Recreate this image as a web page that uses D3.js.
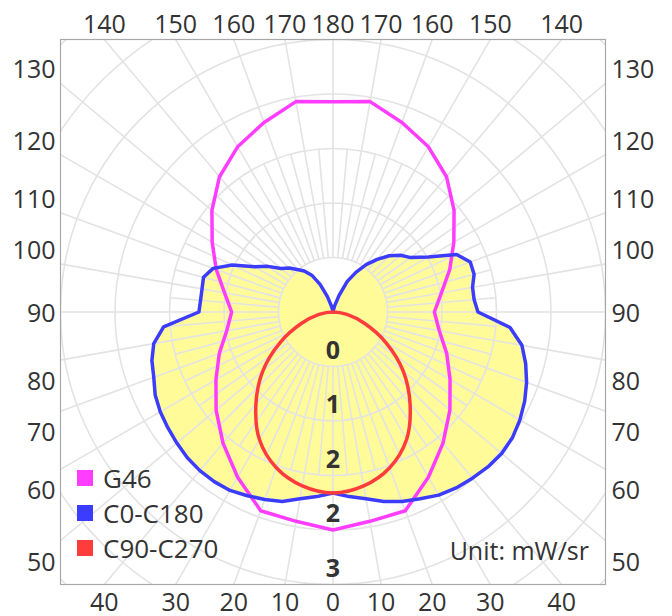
<!DOCTYPE html>
<html>
<head>
<meta charset="utf-8">
<script src="https://cdn.jsdelivr.net/npm/d3@7"></script>
<style>
  body { margin: 0; background: #fff; }
  svg { display: block; }
  text { font-family: "Open Sans", "Noto Sans", sans-serif; fill: #333; }
</style>
</head>
<body>
<svg id="chart" width="672" height="616"></svg>
<script>
// gamma angles (0 = straight down, 180 = straight up)
const angles10 = d3.range(0, 181, 10);
const angles5 = d3.range(0, 181, 5);

// G46 (symmetric), every 10 deg
const g46 = [2.00, 1.95, 1.94, 1.75, 1.57, 1.40, 1.24, 1.11, 0.99, 0.93,
             1.01, 1.14, 1.28, 1.45, 1.62, 1.75, 1.85, 1.96, 1.93];

// C0-C180, every 5 deg, right half (C0) and left half (C180)
const c0 = [1.66, 1.70, 1.74, 1.80, 1.85, 1.89, 1.94, 1.97, 1.99, 2.01, 2.02, 2.01, 1.98,
            1.94, 1.89, 1.83, 1.76, 1.63, 1.33, 1.30, 1.30, 1.34, 1.34, 1.25, 1.01, 0.87,
            0.81, 0.73, 0.63, 0.53, 0.42, 0.31, 0.16, 0.06, 0.02, 0.01, 0];
const c180 = [1.66, 1.70, 1.74, 1.80, 1.83, 1.86, 1.89, 1.90, 1.90, 1.89, 1.87, 1.85, 1.83,
              1.80, 1.75, 1.72, 1.67, 1.56, 1.23, 1.22, 1.22, 1.23, 1.17, 1.02, 0.83, 0.73,
              0.62, 0.57, 0.51, 0.46, 0.39, 0.28, 0.15, 0.06, 0.02, 0.01, 0];

// C90-C270 (symmetric), every 10 deg from 0 to 90
const c90Angles = d3.range(0, 91, 10);
const c90 = [1.66, 1.62, 1.52, 1.35, 1.10, 0.84, 0.56, 0.31, 0.13, 0];

const ringValues = [0.5, 1, 1.5, 2, 2.5];
const ringLabels = ["0", "1", "2", "2", "3"];
const legendNames = ["G46", "C0-C180", "C90-C270"];
const colors = ["#ff3dff", "#3c3cff", "#ff3c3c"];

const svg = d3.select("#chart");
const cx = 333, cy = 312, R = 272.5;
const box = { x0: cx - R, y0: cy - R, size: 2 * R };

const r = d3.scaleLinear().domain([0, 2.5]).range([0, R]);
const rad = (d) => (d * Math.PI) / 180;

// side: +1 right half, -1 left half  -> angle for d3.lineRadial
const radialAngle = (theta, side) => (side > 0 ? Math.PI - rad(theta) : Math.PI + rad(theta));

function twoSided(angles, right, left) {
  const pts = angles.map((a, i) => ({ a: radialAngle(a, 1), v: right[i] }));
  for (let i = angles.length - 2; i > 0; i--) pts.push({ a: radialAngle(angles[i], -1), v: left[i] });
  return pts;
}

const line = d3.lineRadial().angle((d) => d.a).radius((d) => r(d.v)).curve(d3.curveLinearClosed);
const smooth = d3.lineRadial().angle((d) => d.a).radius((d) => r(d.v)).curve(d3.curveCatmullRomClosed);

svg.append("defs").append("clipPath").attr("id", "clip")
  .append("rect").attr("x", box.x0).attr("y", box.y0).attr("width", box.size).attr("height", box.size);

const plot = svg.append("g").attr("clip-path", "url(#clip)");
const g = plot.append("g").attr("transform", `translate(${cx},${cy})`);

// yellow fill of the C0-C180 curve
const bluePts = twoSided(angles5, c0, c180);
g.append("path").attr("d", line(bluePts)).attr("fill", "#fffb99").attr("stroke", "none");

// grid
const grid = g.append("g").attr("stroke", "#e3e3e3").attr("stroke-width", 1.6).attr("fill", "none");
const step = ringValues[0];
d3.range(1, 8).forEach((k) => grid.append("circle").attr("r", r(k * step)));
d3.range(0, 360, 10).forEach((a) => {
  grid.append("line")
    .attr("x1", r(step) * Math.sin(rad(a))).attr("y1", r(step) * Math.cos(rad(a)))
    .attr("x2", 2 * R * Math.sin(rad(a))).attr("y2", 2 * R * Math.cos(rad(a)));
});
d3.range(5, 360, 10).forEach((a) => {
  grid.append("line")
    .attr("x1", r(step) * Math.sin(rad(a))).attr("y1", r(step) * Math.cos(rad(a)))
    .attr("x2", r(3 * step) * Math.sin(rad(a))).attr("y2", r(3 * step) * Math.cos(rad(a)));
});

// curves
const g46Pts = twoSided(angles10, g46, g46);
const redPts = c90Angles.map((a, i) => ({ a: radialAngle(a, 1), v: c90[i] }));
for (let i = c90Angles.length - 2; i > 0; i--) redPts.push({ a: radialAngle(c90Angles[i], -1), v: c90[i] });

g.append("path").attr("d", line(g46Pts)).attr("fill", "none").attr("stroke", colors[0])
  .attr("stroke-width", 3.5).attr("stroke-linejoin", "round");
g.append("path").attr("d", line(bluePts)).attr("fill", "none").attr("stroke", colors[1])
  .attr("stroke-width", 3.5).attr("stroke-linejoin", "round");
g.append("path").attr("d", smooth(redPts)).attr("fill", "none").attr("stroke", colors[2])
  .attr("stroke-width", 3.5);

// frame
svg.append("rect").attr("x", box.x0).attr("y", box.y0).attr("width", box.size).attr("height", box.size)
  .attr("fill", "none").attr("stroke", "#a8a8a8").attr("stroke-width", 1.2);

// radial labels
svg.selectAll(".rlab").data(ringValues).enter().append("text")
  .attr("class", "rlab")
  .attr("x", cx).attr("y", (d) => cy + r(d) - 18)
  .attr("text-anchor", "middle").attr("dominant-baseline", "central")
  .style("font-size", "25px").style("font-weight", "bold")
  .text((d, i) => ringLabels[i]);

// angle labels around the frame
const angleLabels = [];
angles10.forEach((a) => {
  [1, -1].forEach((side) => {
    if ((a === 0 || a === 180) && side < 0) return;
    const s = Math.sin(rad(a)), c = Math.cos(rad(a));
    const t = R / Math.max(Math.abs(s), Math.abs(c));
    angleLabels.push({ a, side, x: cx + side * t * s, y: cy + t * c, vertical: Math.abs(c) >= Math.abs(s) - 1e-9 });
  });
});
svg.selectAll(".alab").data(angleLabels).enter().append("text")
  .attr("class", "alab")
  .attr("x", (d) => (d.vertical ? d.x : d.side > 0 ? box.x0 + box.size + 6 : box.x0 - 5))
  .attr("y", (d) => {
    if (d.vertical) return d.a > 90 ? box.y0 - 17 : box.y0 + box.size + 16;
    return d.a > 90 ? d.y - 15 : d.a < 90 ? d.y + 20 : d.y;
  })
  .attr("text-anchor", (d) => (d.vertical ? "middle" : d.side > 0 ? "start" : "end"))
  .attr("dominant-baseline", "central")
  .style("font-size", "25px")
  .text((d) => d.a);

// legend
const legend = svg.append("g").attr("transform", "translate(77,470)");
legendNames.forEach((name, i) => {
  legend.append("rect").attr("x", 0).attr("y", i * 35).attr("width", 16).attr("height", 16).attr("fill", colors[i]);
  legend.append("text").attr("x", 26).attr("y", i * 35 + 8).attr("dominant-baseline", "central")
    .style("font-size", "26px").text(name);
});

svg.append("text").attr("x", 589).attr("y", 550).attr("text-anchor", "end").attr("dominant-baseline", "central")
  .style("font-size", "25px").text("Unit: mW/sr");
</script>
</body>
</html>
